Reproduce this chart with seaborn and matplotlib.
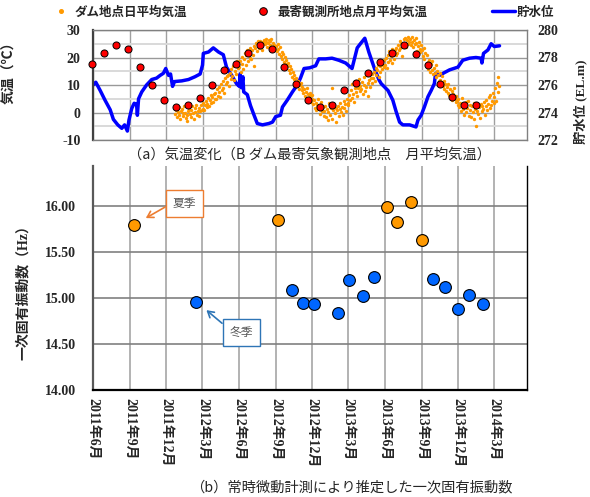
import pandas as pd
import matplotlib
matplotlib.use("Agg")
import matplotlib.pyplot as plt
import matplotlib.dates as mdates
from matplotlib.lines import Line2D
import seaborn as sns

# ---------------- reservoir water level (EL.m) ----------------
level_dates = [
    "2011-06-01", "2011-06-08", "2011-06-19", "2011-07-01", "2011-07-14", "2011-07-22",
    "2011-08-02", "2011-08-12", "2011-08-19", "2011-08-26", "2011-08-30", "2011-09-06",
    "2011-09-12", "2011-09-18", "2011-09-20", "2011-09-23", "2011-10-01", "2011-10-13",
    "2011-10-26", "2011-11-07", "2011-11-16", "2011-11-24", "2011-11-30", "2011-12-07",
    "2011-12-12", "2011-12-17", "2011-12-22", "2012-01-09", "2012-01-26", "2012-02-11",
    "2012-02-24", "2012-03-01", "2012-03-03", "2012-03-16", "2012-03-28", "2012-04-10",
    "2012-04-22", "2012-04-30", "2012-05-13", "2012-05-25", "2012-06-01", "2012-06-03",
    "2012-06-06", "2012-06-10", "2012-06-12", "2012-06-21", "2012-06-29", "2012-07-08",
    "2012-07-16", "2012-07-29", "2012-08-14", "2012-08-23", "2012-08-31", "2012-09-12",
    "2012-09-17", "2012-09-29", "2012-10-12", "2012-10-24", "2012-11-01", "2012-11-10",
    "2012-11-24", "2012-12-09", "2012-12-17", "2013-01-03", "2013-01-19", "2013-02-05",
    "2013-02-22", "2013-03-10", "2013-03-23", "2013-03-31", "2013-04-11", "2013-04-21",
    "2013-05-04", "2013-05-16", "2013-05-22", "2013-06-08", "2013-06-20", "2013-06-28",
    "2013-07-07", "2013-07-15", "2013-08-01", "2013-08-17", "2013-08-22", "2013-08-30",
    "2013-09-07", "2013-09-16", "2013-09-24", "2013-10-02", "2013-10-05", "2013-10-15",
    "2013-10-27", "2013-11-09", "2013-11-30", "2013-12-12", "2013-12-29", "2014-01-14",
    "2014-01-27", "2014-01-29", "2014-02-02", "2014-02-13", "2014-02-21", "2014-03-01",
    "2014-03-14",
]
level_values = [
    276.0, 276.2, 275.6, 274.9, 274.2, 273.5,
    273.1, 272.85, 273.1, 272.65, 273.45, 274.3,
    274.67, 274.6, 273.8, 275.0, 275.5, 276.0,
    276.4, 276.5, 276.7, 276.85, 277.2, 276.7,
    276.8, 275.9, 276.25, 276.3, 276.4, 276.6,
    276.8, 277.45, 278.3, 278.4, 278.7, 278.4,
    278.2, 277.3, 276.7, 276.1, 275.9, 276.8,
    275.8, 276.6, 275.5, 275.3, 274.5, 273.8,
    273.2, 273.1, 273.2, 273.3, 273.7, 273.8,
    274.4, 274.9, 275.5, 276.0, 276.5, 277.2,
    277.25, 277.4, 277.9, 277.9, 277.95, 277.8,
    277.6, 277.2, 278.7, 279.0, 279.4, 278.4,
    277.3, 276.4, 276.1, 275.6, 274.9, 274.1,
    273.3, 273.1, 273.1, 272.95, 273.45, 273.8,
    274.4, 275.15, 275.6, 276.1, 276.85, 276.7,
    276.9, 277.1, 277.3, 277.8, 277.95, 278.0,
    277.95, 277.6, 278.3, 278.55, 279.0, 278.8,
    278.85,
]

# ------- monthly mean air temperature, nearest weather station (°C) -------
monthly_start = "2011-05-30"
monthly_temp = [
    17.5, 21.8, 24.5, 23.2, 16.6, 9.9, 4.7, 2.1, 2.7, 5.3, 9.9, 15.5,
    17.6, 21.7, 24.5, 23.2, 16.6, 10.2, 4.6, 2.0, 2.7, 8.2, 10.9, 14.2,
    18.4, 21.7, 24.5, 21.3, 17.2, 10.2, 5.7, 2.9, 2.9,
]

# ------- daily mean air temperature at the dam site (°C), every 2nd day -------
winter_2012_start = "2011-12-22"
winter_2012 = [1.5, -0.5, 0.8, -1.8, 0.2, 1.9, -0.8, -2.5, 0.5, 1.2, -1.2, -0.3, 2.4, 0.0,
               -2.0, -3.0, -1.0, 0.6, 1.4, -0.6, -1.5, 0.9, 2.2, -0.2, -2.2, 0.3, 1.6, 2.8,
               -0.9, 0.7, 1.8, -1.4, 0.4, 2.6, 1.0]
spring_2012_start = "2012-03-01"
spring_2012 = [1.2, 3.5, 0.8, 2.6, 4.1, 1.9, 3.0, 5.2, 2.4, 4.6, 6.3, 3.3, 5.8, 4.0, 6.9, 5.0,
               7.2, 4.8, 8.6, 6.1, 9.4, 7.5, 5.6, 10.3, 8.2, 11.6, 9.0, 7.0, 12.4, 10.5, 13.2,
               11.0, 13.6, 9.8, 14.5, 12.3, 15.8, 13.4, 16.9, 11.8, 15.1, 17.6, 14.0, 18.7, 16.2, 17.8]
summer_2012_start = "2012-06-01"
summer_2012 = [16.5, 18.9, 14.6, 17.8, 20.2, 15.9, 19.4, 21.6, 17.2, 20.8, 22.7, 18.6, 21.3, 23.4, 20.0,
               19.4, 22.6, 21.0, 24.1, 16.8, 23.5, 25.2, 22.2, 24.8, 25.9, 23.4, 26.1, 24.6, 25.5, 22.9, 25.8,
               26.4, 24.9, 25.7, 26.8, 23.8, 25.3, 26.2, 24.4, 25.9, 26.9, 24.0, 25.1, 23.5, 24.7, 22.6]
autumn_2012_start = "2012-09-01"
autumn_2012 = [24.2, 22.5, 25.0, 23.1, 21.4, 23.8, 20.6, 22.0, 19.5, 21.2, 18.4, 20.1, 17.5, 19.0, 16.8,
               18.0, 15.6, 16.9, 14.3, 15.8, 13.0, 14.6, 12.2, 13.5, 11.0, 12.6, 9.8, 11.5, 10.4, 8.6, 9.9,
               10.8, 8.2, 9.3, 7.0, 8.7, 6.1, 7.6, 5.4, 9.0, 6.6, 4.8, 7.2, 5.9, 3.9, 6.3]
winter_2013_start = "2012-12-01"
winter_2013 = [5.0, 3.2, 4.4, 1.8, 3.6, 0.9, 2.7, 4.9, 1.4, -0.5, 2.2, 3.8, 0.4, 1.9, -1.2,
               0.6, 2.5, -1.6, 1.1, -2.8, 0.2, 3.4, -0.9, 1.7, 8.8, -2.2, 0.8, 2.9, -0.3, 1.5, -3.3,
               0.9, 2.4, -1.4, 1.3, 3.6, 0.1, 2.0, -0.8, 4.2, 1.6, 3.1, 0.5, 4.8, 2.7]
spring_2013_start = "2013-03-01"
spring_2013 = [3.6, 6.2, 4.5, 8.1, 5.3, 10.2, 6.8, 4.0, 9.0, 7.4, 11.5, 6.0, 8.8, 12.3, 7.9, 9.6,
               8.4, 11.2, 6.7, 10.0, 12.8, 7.8, 9.4, 13.5, 10.7, 5.9, 11.9, 9.1, 12.6, 14.0, 10.9,
               12.4, 14.9, 11.3, 16.2, 13.7, 15.5, 17.4, 12.9, 16.8, 14.6, 18.2, 15.9, 17.1, 19.0, 16.4]
summer_2013_start = "2013-06-01"
summer_2013 = [17.2, 19.8, 16.3, 21.0, 18.5, 22.4, 19.1, 20.6, 17.9, 23.0, 21.5, 19.6, 22.8, 20.9, 23.6,
               21.8, 24.5, 22.9, 26.0, 23.3, 25.4, 20.7, 24.2, 26.6, 25.0, 27.1, 23.9, 26.3, 24.8, 27.4, 25.7,
               26.9, 24.6, 27.5, 25.5, 23.7, 26.2, 24.9, 27.0, 25.3, 22.4, 24.1, 25.8, 23.2, 21.9, 24.4]
autumn_2013_start = "2013-09-01"
autumn_2013 = [22.6, 20.4, 23.5, 19.6, 21.8, 17.5, 20.9, 18.3, 16.0, 19.2, 14.8, 17.8, 15.6, 18.6, 13.9,
               16.3, 14.5, 17.2, 12.9, 15.0, 13.8, 11.6, 14.2, 12.0, 10.5, 13.1, 9.6, 11.4, 8.7, 10.2, 7.9,
               9.4, 7.1, 10.3, 6.2, 8.5, 5.3, 7.7, 4.6, 6.8, 8.9, 5.0, 3.7, 6.0, 4.2, 2.8]
winter_2014_start = "2013-12-01"
winter_2014 = [4.8, 2.1, 3.5, 0.6, 2.9, 5.4, 1.3, -0.8, 2.4, 3.9, 0.2, 1.8, 4.3, -1.3, 2.6,
               0.9, -1.7, 2.2, 0.3, 3.5, -2.4, 1.4, -5.0, 0.7, 2.8, -0.6, 1.9, -2.1, 3.1, 0.5, 2.3,
               1.2, 3.8, -0.9, 2.5, 4.6, 0.8, 3.0, 5.8, 1.6, 6.4, 2.9, 4.1, 7.2, 3.4,
               5.6, 8.9, 4.3, 10.6, 7.4, 12.8, 9.8]

# ------- first natural frequency from ambient vibration measurement (Hz) -------
summer_dates = ["2011-09-11", "2012-09-06", "2013-06-06", "2013-07-02", "2013-08-06", "2013-09-01"]
summer_freq = [15.79, 15.84, 15.98, 15.82, 16.04, 15.63]
winter_dates = ["2012-02-14", "2012-10-10", "2012-11-07", "2012-12-04", "2013-02-03", "2013-03-02",
                "2013-04-06", "2013-05-04", "2013-09-29", "2013-10-29", "2013-11-30", "2013-12-27",
                "2014-01-31"]
winter_freq = [14.96, 15.09, 14.94, 14.93, 14.83, 15.19, 15.02, 15.23, 15.20, 15.12, 14.88, 15.03, 14.93]

tick_dates = ["2011-06-01", "2011-09-01", "2011-12-01", "2012-03-01", "2012-06-01", "2012-09-01",
              "2012-12-01", "2013-03-01", "2013-06-01", "2013-09-01", "2013-12-01", "2014-03-01"]
tick_labels = ["2011年6月", "2011年9月", "2011年12月", "2012年3月", "2012年6月", "2012年9月",
               "2012年12月", "2013年3月", "2013年6月", "2013年9月", "2013年12月", "2014年3月"]

# ---------------------------------------------------------------------------
sns.set_style("white")
plt.rcParams["font.family"] = ["Liberation Serif", "Noto Sans CJK JP"]
plt.rcParams["axes.unicode_minus"] = False
JP = ["Noto Sans CJK JP", "DejaVu Sans"]
SJ = ["Liberation Serif", "Noto Sans CJK JP"]

ORANGE = "#FF9900"
BLUE_LINE = "#0000FF"
BLUE_DOT = "#0066FF"
RED = "#FF0000"

level_df = pd.DataFrame({"date": pd.to_datetime(level_dates), "level": level_values})
monthly_df = pd.DataFrame({
    "date": pd.date_range(monthly_start, periods=len(monthly_temp), freq="30D"),
    "temp": monthly_temp,
})
segments = [
    (winter_2012_start, winter_2012), (spring_2012_start, spring_2012),
    (summer_2012_start, summer_2012), (autumn_2012_start, autumn_2012),
    (winter_2013_start, winter_2013), (spring_2013_start, spring_2013),
    (summer_2013_start, summer_2013), (autumn_2013_start, autumn_2013),
    (winter_2014_start, winter_2014),
]
daily_df = pd.concat([
    pd.DataFrame({"date": pd.date_range(start, periods=len(vals), freq="2D"), "temp": vals})
    for start, vals in segments
], ignore_index=True)

summer_df = pd.DataFrame({"date": pd.to_datetime(summer_dates), "freq": summer_freq})
winter_df = pd.DataFrame({"date": pd.to_datetime(winter_dates), "freq": winter_freq})

xlim = (pd.Timestamp("2011-06-01"), pd.Timestamp("2014-05-21"))
ticks = pd.to_datetime(tick_dates)

fig = plt.figure(figsize=(5.9, 4.97), dpi=100)
W, H = 590.0, 497.0

# ---------------- (a) temperature and water level ----------------
ax_lv = fig.add_axes([93 / W, 1 - 140 / H, (526.7 - 93) / W, 110 / H])
ax_t = ax_lv.twinx()

sns.lineplot(data=level_df, x="date", y="level", ax=ax_lv, color=BLUE_LINE,
             linewidth=2.5, zorder=2)
sns.scatterplot(data=daily_df, x="date", y="temp", ax=ax_t, color=ORANGE, s=6,
                linewidth=0, marker="o", zorder=2)
sns.scatterplot(data=monthly_df, x="date", y="temp", ax=ax_t, color=RED, s=26,
                edgecolor="black", linewidth=0.7, zorder=3, clip_on=False)

ax_lv.set_xlim(*xlim)
ax_lv.set_ylim(272, 280)
ax_lv.set_yticks([272, 274, 276, 278, 280])
ax_lv.set_yticks([273, 275, 277, 279], minor=True)
ax_lv.set_xticks(ticks)
ax_lv.tick_params(axis="x", labelbottom=False, length=0)
ax_lv.yaxis.tick_right()
ax_lv.yaxis.set_label_position("right")
ax_lv.tick_params(axis="y", which="both", length=0, pad=8)
ax_lv.grid(axis="x", which="major", color="#A0A0A0", linewidth=1.0)
ax_lv.grid(axis="y", which="major", color="#999999", linewidth=1.0)
ax_lv.grid(axis="y", which="minor", color="#D9D9D9", linewidth=1.4)
ax_lv.set_axisbelow(True)
for lab in ax_lv.get_yticklabels():
    lab.set_fontfamily(SJ)
    lab.set_fontweight("bold")
    lab.set_fontsize(10)
ax_lv.set_xlabel("")
ax_lv.set_ylabel("貯水位 (EL.m)", fontfamily=SJ, fontweight="bold", fontsize=9.5)
ax_lv.yaxis.set_label_coords(1.108, 0.345)
for sp in ax_lv.spines.values():
    sp.set_visible(False)

ax_t.set_ylim(-10, 30)
ax_t.set_yticks([-10, 0, 10, 20, 30])
ax_t.yaxis.tick_left()
ax_t.yaxis.set_label_position("left")
ax_t.tick_params(axis="y", length=0, pad=9)
for lab in ax_t.get_yticklabels():
    lab.set_fontfamily(SJ)
    lab.set_fontweight("bold")
    lab.set_fontsize(10)
ax_t.set_xlabel("")
ax_t.set_ylabel("気温（℃）", fontfamily=JP, fontweight="bold", fontsize=10)
ax_t.yaxis.set_label_coords(-0.176, 0.64)
ax_t.spines["left"].set_color("#404040")
ax_t.spines["left"].set_linewidth(1.6)
for side in ("top", "right", "bottom"):
    ax_t.spines[side].set_color("#808080")
    ax_t.spines[side].set_linewidth(1.0)

handles = [
    Line2D([], [], ls="none", marker="o", ms=2.6, mfc=ORANGE, mec=ORANGE),
    Line2D([], [], ls="none", marker="o", ms=5.5, mfc=RED, mec="black", mew=0.7),
    Line2D([], [], color=BLUE_LINE, lw=2.5),
]
fig.legend(handles, ["ダム地点日平均気温", "最寄観測所地点月平均気温", "貯水位"],
           loc="center", bbox_to_anchor=(302 / W, 1 - 12 / H), ncol=3, frameon=False,
           prop=dict(family=JP, weight="bold", size=9), handlelength=1.8,
           handletextpad=0.2, columnspacing=5.2, borderpad=0, borderaxespad=0)

fig.text(309 / W, 1 - 155 / H, "（a）気温変化（B ダム最寄気象観測地点　月平均気温）",
         ha="center", va="center", fontsize=10.3, family=JP)

# ---------------- (b) first natural frequency ----------------
ax_b = fig.add_axes([93 / W, 1 - 390 / H, 433.5 / W, 224 / H])
sns.scatterplot(data=summer_df, x="date", y="freq", ax=ax_b, color=ORANGE, s=72,
                edgecolor="black", linewidth=0.8, zorder=3)
sns.scatterplot(data=winter_df, x="date", y="freq", ax=ax_b, color=BLUE_DOT, s=72,
                edgecolor="black", linewidth=0.8, zorder=3)

ax_b.set_xlim(*xlim)
ax_b.set_ylim(14.0, 16.43)
ax_b.set_yticks([14.0, 14.5, 15.0, 15.5, 16.0])
ax_b.set_yticklabels([f"{v:.2f}" for v in [14.0, 14.5, 15.0, 15.5, 16.0]],
                     fontfamily=SJ, fontweight="bold", fontsize=10)
ax_b.set_xticks(ticks)
ax_b.set_xticklabels(tick_labels, rotation=-90, fontfamily=SJ, fontweight="bold",
                     fontsize=10, ha="center", va="top")
ax_b.tick_params(axis="both", length=0)
ax_b.tick_params(axis="y", pad=12)
ax_b.tick_params(axis="x", pad=6)
ax_b.grid(axis="y", color="#808080", linewidth=1.2)
ax_b.grid(axis="x", color="#A6A6A6", linewidth=1.2)
ax_b.set_axisbelow(True)
ax_b.set_xlabel("")
ax_b.set_ylabel("一次固有振動数（Hz）", fontfamily=SJ, fontweight="bold", fontsize=10)
ax_b.yaxis.set_label_coords(-0.145, 0.45)
ax_b.spines["top"].set_visible(False)
ax_b.spines["left"].set_color("#595959")
ax_b.spines["left"].set_linewidth(1.6)
ax_b.spines["bottom"].set_color("black")
ax_b.spines["bottom"].set_linewidth(1.6)
ax_b.spines["right"].set_color("black")
ax_b.spines["right"].set_linewidth(1.0)

s_xy = (mdates.date2num(summer_df["date"].iloc[0]), summer_df["freq"].iloc[0])
ax_b.annotate("夏季", xy=s_xy, xytext=(36.5, 15.6), textcoords="offset points",
              ha="center", va="center", fontsize=8.5, color="#595959", family=JP,
              bbox=dict(boxstyle="square,pad=0.6", fc="white", ec="#ED7D31", lw=1.0),
              arrowprops=dict(arrowstyle="->,head_length=0.5,head_width=0.3",
                              color="#ED7D31", lw=1.2, shrinkA=0, shrinkB=10,
                              relpos=(0.0, 0.55)),
              zorder=4)
w_xy = (mdates.date2num(winter_df["date"].iloc[0]), winter_df["freq"].iloc[0])
ax_b.annotate("冬季", xy=w_xy, xytext=(32.6, -22.1), textcoords="offset points",
              ha="center", va="center", fontsize=8.5, color="#595959", family=JP,
              bbox=dict(boxstyle="square,pad=0.6", fc="white", ec="#2E75B6", lw=1.0),
              arrowprops=dict(arrowstyle="->,head_length=0.5,head_width=0.3",
                              color="#2E75B6", lw=1.2, shrinkA=0, shrinkB=9.7,
                              relpos=(0.0, 0.7)),
              zorder=4)

fig.text(351 / W, 1 - 487 / H, "（b）常時微動計測により推定した一次固有振動数",
         ha="center", va="center", fontsize=10.3, family=JP)

fig.savefig("out.png", dpi=100)
